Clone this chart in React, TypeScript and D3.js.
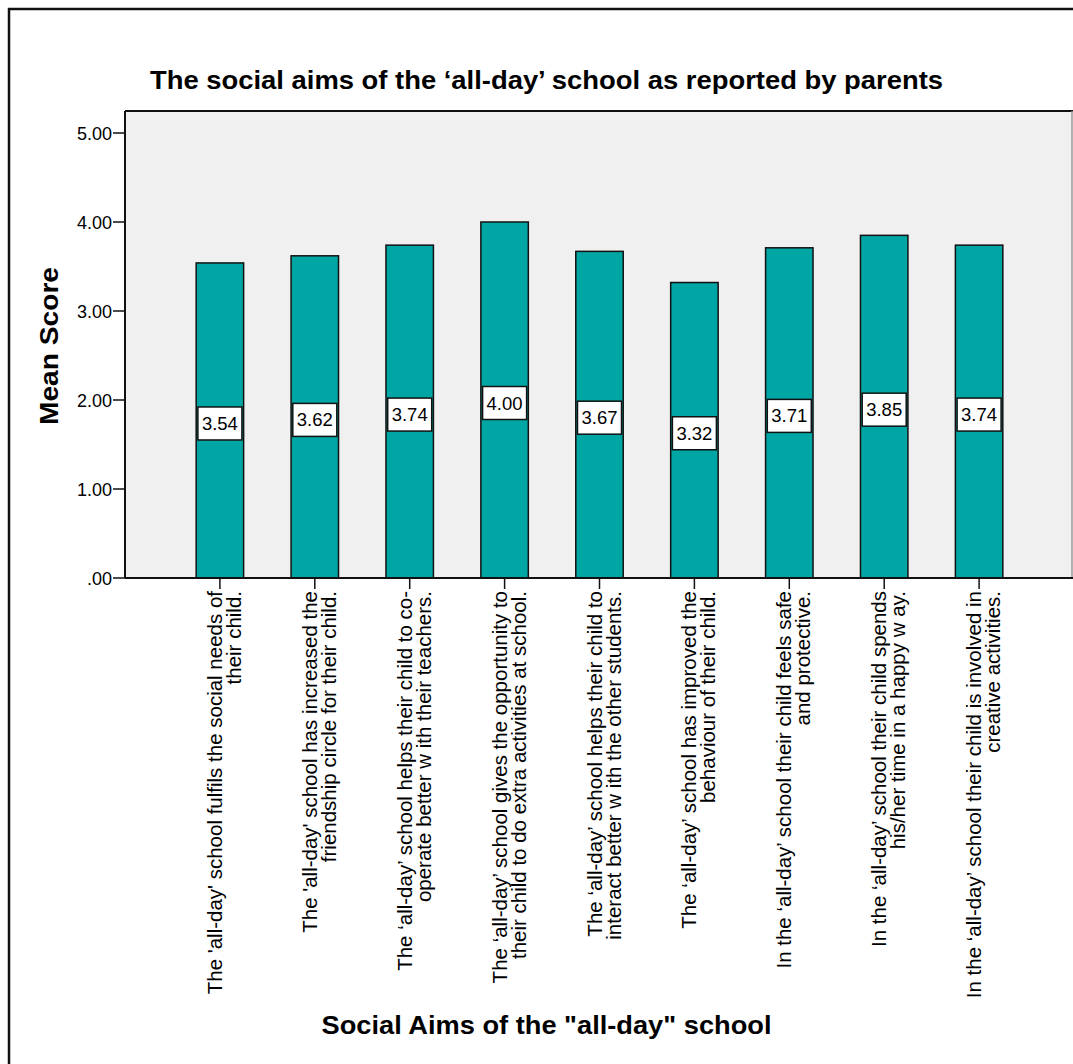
import React from "react";
import * as d3 from "d3";

const labelLine1: string[] = [
  "The 'all-day' school fulfils the social needs of",
  "The 'all-day' school has increased the",
  "The \u2018all-day\u2019 school helps their child to co-",
  "The \u2018all-day\u2019 school gives the opportunity to",
  "The \u2018all-day\u2019 school helps their child to",
  "The \u2018all-day\u2019 school has improved the",
  "In the \u2018all-day\u2019 school their child feels safe",
  "In the \u2018all-day\u2019 school their child spends",
  "In the \u2018all-day\u2019 school their child is involved in",
];
const labelLine2: string[] = [
  "their child.",
  "friendship circle for their child.",
  "operate better w ith their teachers.",
  "their child to do extra activities at school.",
  "interact better w ith the other students.",
  "behaviour of their child.",
  "and protective.",
  "his/her time in a happy w ay.",
  "creative activities.",
];
const meanScores: number[] = [3.54, 3.62, 3.74, 4.0, 3.67, 3.32, 3.71, 3.85, 3.74];
const yTicks: number[] = [0, 1, 2, 3, 4, 5];
const titleText = "The social aims of the \u2018all-day\u2019 school as reported by parents";
const xTitle = 'Social Aims of the "all-day" school';
const yTitle = "Mean Score";

const FONT = "'Liberation Sans', Arial, Helvetica, sans-serif";

export default function App() {
  const W = 1073;
  const H = 1064;
  const left = 125;
  const right = 1072;
  const top = 111;
  const bottom = 578;
  const idx = meanScores.map((_, i) => String(i));
  const x = d3
    .scaleBand<string>()
    .domain(idx)
    .range([left, right + 2])
    .paddingInner(0.5)
    .paddingOuter(0.75);
  const y = d3.scaleLinear().domain([0, 5]).range([bottom, 133]);
  const fmt = d3.format(".2f");
  const tickFmt = (v: number) => (v === 0 ? ".00" : fmt(v));

  return (
    <svg
      width={W}
      height={H}
      style={{ position: "absolute", left: 0, top: 0, background: "#fff" }}
      fontFamily={FONT}
    >
      <rect x={0} y={0} width={W} height={H} fill="#fff" />
      {/* outer frame */}
      <rect x={9} y={9} width={1200} height={1200} fill="none" stroke="#111" strokeWidth={2.5} />

      {/* title */}
      <text
        x={546.5}
        y={89}
        textAnchor="middle"
        fontWeight="bold"
        fontSize={25.5}
        textLength={793}
        lengthAdjust="spacingAndGlyphs"
        fill="#000"
      >
        {titleText}
      </text>

      {/* plot background */}
      <rect x={left} y={top} width={right - left} height={bottom - top} fill="#f0f0f0" />
      <line x1={left} x2={right + 2} y1={top} y2={top} stroke="#111" strokeWidth={2} />
      <line x1={right} x2={right} y1={top} y2={bottom} stroke="#999" strokeWidth={1.5} />

      {/* bars */}
      {meanScores.map((v, i) => (
        <rect
          key={"b" + i}
          x={x(String(i))!}
          y={y(v)}
          width={x.bandwidth()}
          height={bottom - y(v)}
          fill="#00a6a3"
          stroke="#111"
          strokeWidth={1.5}
        />
      ))}

      {/* value labels */}
      {meanScores.map((v, i) => {
        const cx = x(String(i))! + x.bandwidth() / 2;
        const cy = y(v / 2) + 3;
        return (
          <g key={"v" + i}>
            <rect x={cx - 22} y={cy - 16.5} width={44} height={33} fill="#fff" stroke="#111" strokeWidth={1.5} />
            <text x={cx} y={cy + 6.5} textAnchor="middle" fontSize={18.5} fill="#000">
              {fmt(v)}
            </text>
          </g>
        );
      })}

      {/* y axis */}
      <line x1={left} x2={left} y1={top} y2={bottom} stroke="#111" strokeWidth={2} />
      {yTicks.map((t) => (
        <g key={"t" + t}>
          <line x1={113} x2={left} y1={y(t)} y2={y(t)} stroke="#111" strokeWidth={1.5} />
          <text x={112} y={y(t) + 6.5} textAnchor="end" fontSize={18} fill="#000">
            {tickFmt(t)}
          </text>
        </g>
      ))}

      {/* x axis */}
      <line x1={left} x2={right + 2} y1={bottom} y2={bottom} stroke="#111" strokeWidth={2} />
      {meanScores.map((_, i) => {
        const cx = x(String(i))! + x.bandwidth() / 2;
        return (
          <g key={"x" + i}>
            <line x1={cx} x2={cx} y1={bottom} y2={589} stroke="#111" strokeWidth={1.5} />
            <text
              transform={`translate(${cx + 2},591) rotate(-90)`}
              textAnchor="end"
              fontSize={20.5}
              fill="#000"
            >
              {labelLine1[i]}
            </text>
            <text
              transform={`translate(${cx + 21},591) rotate(-90)`}
              textAnchor="end"
              fontSize={20.5}
              fill="#000"
            >
              {labelLine2[i]}
            </text>
          </g>
        );
      })}

      {/* axis titles */}
      <text
        x={546.5}
        y={1034}
        textAnchor="middle"
        fontWeight="bold"
        fontSize={25.5}
        textLength={450}
        lengthAdjust="spacingAndGlyphs"
        fill="#000"
      >
        {xTitle}
      </text>
      <text
        transform="translate(58,346) rotate(-90)"
        textAnchor="middle"
        fontWeight="bold"
        fontSize={26}
        textLength={158}
        lengthAdjust="spacingAndGlyphs"
        fill="#000"
      >
        {yTitle}
      </text>
    </svg>
  );
}
